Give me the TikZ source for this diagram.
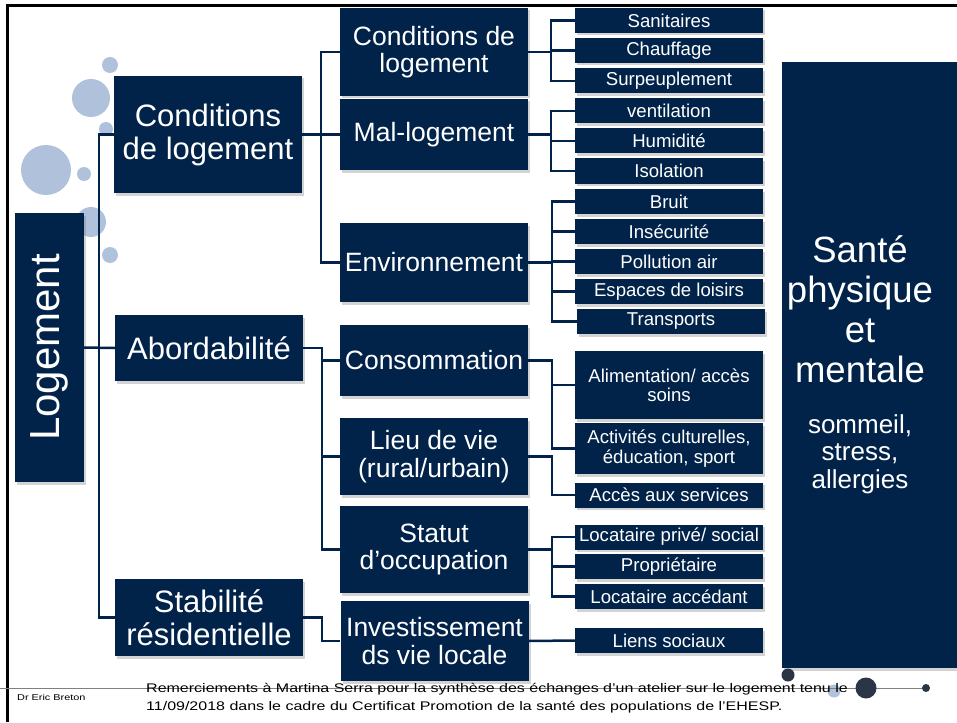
\documentclass[tikz,border=0pt]{standalone}
\usepackage{fontspec}
\setmainfont{Liberation Sans}
\newfontfamily\widefont[FakeStretch=1.28]{Liberation Sans}
\usepackage{graphicx}
\usetikzlibrary{shadows}
\definecolor{LGNavy}{HTML}{01234A}
\definecolor{LGBubble}{HTML}{AFC1DB}
\definecolor{LGDot}{HTML}{2A3646}
\newcommand{\fsz}[2]{\fontsize{#1}{#2}\selectfont}

\begin{document}
\begin{tikzpicture}[
  x=1pt, y=-1pt,
  base/.style={fill=LGNavy, text=white, align=center, inner sep=1pt, drop shadow={shadow xshift=2pt, shadow yshift=-2.5pt, opacity=0.35}},
  lvlone/.style={base, minimum width=188pt, font={\fsz{31}{33}}},
  lvltwo/.style={base, minimum width=188pt, font={\fsz{26.5}{27.5}}},
  leaf/.style={base, minimum width=188pt, minimum height=25pt, font={\fsz{18.6}{19.5}}},
  link/.style={draw=LGNavy, line width=2.5pt},
  bubble/.style={fill=LGBubble},
  dot/.style={fill=LGDot}
]
\useasboundingbox (0,0) rectangle (957,722);
\draw[line width=3pt] (957,6) -- (7,6) -- (7,722);
\fill[bubble] (110,65) circle (8);
\fill[bubble] (91,98) circle (19);
\fill[bubble] (106,129) circle (7);
\fill[bubble] (46,170) circle (25);
\fill[bubble] (84,174) circle (7);
\fill[bubble] (91,222) circle (15);
\fill[bubble] (110,255) circle (8);

\node[base, minimum width=69pt, minimum height=269pt] (logement) at (49.5,347.5) {\rotatebox{90}{\fsz{42}{42}Logement}};

\node[lvlone, minimum height=117pt] (cdl) at (208,134.5) {Conditions\\de logement};
\node[lvlone, minimum height=66pt] (abord) at (209,348) {Abordabilité};
\node[lvlone, minimum height=77pt] (stab) at (209,617.5) {Stabilité\\résidentielle};

\node[lvltwo, minimum height=88pt] (cond) at (434,52) {Conditions de\\logement};
\node[lvltwo, minimum height=71pt] (mal) at (434,134.5) {Mal-logement};
\node[lvltwo, minimum height=79pt] (env) at (434,262.5) {Environnement};
\node[lvltwo, minimum height=71pt] (conso) at (434,360.5) {Consommation};
\node[lvltwo, minimum height=77pt] (lieu) at (434,456.5) {Lieu de vie\\(rural/urbain)};
\node[lvltwo, minimum height=87pt] (statut) at (434,549.5) {Statut\\d’occupation};
\node[lvltwo, minimum height=80pt] (invest) at (434.5,641) {Investissement\\ds vie locale};

\node[leaf] (san) at (669,20.5) {Sanitaires};
\node[leaf] (chauf) at (669,50.5) {Chauffage};
\node[leaf] (surp) at (669,81) {Surpeuplement};
\node[leaf] (vent) at (669,111) {ventilation};
\node[leaf] (humid) at (669,141) {Humidité};
\node[leaf] (isol) at (669,171) {Isolation};
\node[leaf] (bruit) at (669,201.5) {Bruit};
\node[leaf] (insec) at (669,231.5) {Insécurité};
\node[leaf] (poll) at (669,261.5) {Pollution air};
\node[leaf] (esp) at (669,291.5) {Espaces de loisirs};
\node[leaf] (transp) at (671,321.5) {Transports};
\node[leaf, minimum height=68pt] (alim) at (669,385) {Alimentation/ accès\\soins};
\node[leaf, minimum height=51pt] (activ) at (669,448.5) {Activités culturelles,\\éducation, sport};
\node[leaf] (acces) at (669,495) {Accès aux services};
\node[leaf] (locp) at (669,537) {Locataire privé/ social};
\node[leaf] (propr) at (669,566.5) {Propriétaire};
\node[leaf] (loca) at (669,596.5) {Locataire accédant};
\node[leaf] (liens) at (669,640.5) {Liens sociaux};

\node[base, minimum width=175pt, minimum height=606pt, inner sep=0pt] (sante) at (869.5,365) {\hbox to 175pt{\parbox{156pt}{\centering\fsz{36.5}{40}Santé\\physique\\et\\mentale\par\vspace{23pt}\fsz{26}{27.5}sommeil,\\stress,\\allergies}\hss}};

\draw[link] (logement.east) -- (abord.west);
\draw[link] (cdl.west) -- ++(-15,0) |- (stab.west);
\draw[link] (cdl.east) -- (mal.west);
\draw[link] (mal.west) -- ++(-19,0) |- (cond.west);
\draw[link] (mal.west) -- ++(-19,0) |- (env.west);
\draw[link] (abord.east) -- ++(19,0) coordinate (abr) |- (conso.west);
\draw[link] (abr) |- (lieu.west);
\draw[link] (abr) |- (statut.west);
\draw[link] (stab.east) -- ++(19,0) |- (invest.west);

\foreach \leaf in {san,chauf,surp}
  \draw[link] (cond.east) -- ++(23,0) |- (\leaf.west);
\foreach \leaf in {vent,humid,isol}
  \draw[link] (mal.east) -- ++(23,0) |- (\leaf.west);
\foreach \leaf in {bruit,insec,poll,esp,transp}
  \draw[link] (env.east) -- ++(24,0) |- (\leaf.west);
\foreach \leaf in {alim,activ}
  \draw[link] (conso.east) -- ++(24,0) |- (\leaf.west);
\draw[link] (lieu.east) -- ++(24,0) |- (acces.west);
\foreach \leaf in {locp,propr,loca}
  \draw[link] (statut.east) -- ++(24,0) |- (\leaf.west);
\draw[link] (invest.east) -- (liens.west);

\fill[bubble] (834,691) circle (6.5);
\draw[gray, line width=1pt] (0,688) -- (926,688);
\fill[dot] (788,675) circle (6.5);
\fill[dot] (866,688) circle (10.5);
\fill[dot] (926,688) circle (4);
\node[anchor=west, inner sep=0pt, font={\widefont\fsz{8.5}{10}}] (auteur) at (17,697) {Dr Eric Breton};
\node[anchor=west, align=left, inner sep=0pt, font={\widefont\fsz{12.5}{18}}] (merci) at (146,698) {Remerciements à Martina Serra pour la synthèse des échanges d’un atelier sur le logement tenu le\\11/09/2018 dans le cadre du Certificat Promotion de la santé des populations de l’EHESP.};
\end{tikzpicture}
\end{document}
